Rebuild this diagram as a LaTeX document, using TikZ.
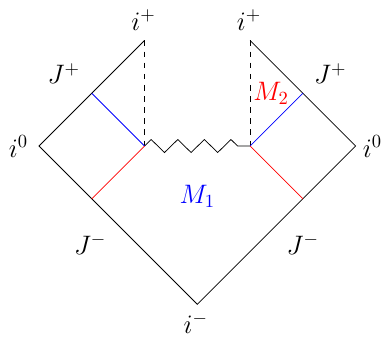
\documentclass[tikz,border=0pt]{standalone}
\begin{document}
\begin{tikzpicture}[
  lbl/.style={anchor=base, inner sep=0pt, font=\fontsize{14}{17}\selectfont},
  zz/.style={line join=miter}
]
\useasboundingbox (-3.739,-0.601) rectangle (3.500,5.767);
% vertices
\coordinate (Im) at (0,0);
\coordinate (L0) at (-3,3);
\coordinate (R0) at (3,3);
\coordinate (LP) at (-1,5);
\coordinate (RP) at (1,5);
\coordinate (SL) at (-1,3);
\coordinate (SR) at (1,3);
\coordinate (LU) at (-2,4);
\coordinate (LD) at (-2,2);
\coordinate (RU) at (2,4);
\coordinate (RD) at (2,2);
% outline
\draw (LP) -- (L0) -- (Im) -- (R0) -- (RP);
\draw[dashed] (LP) -- (SL);
\draw[dashed] (RP) -- (SR);
% singularity
\draw[zz] (SL) -- (-0.874,3.123) -- (-0.622,2.877) -- (-0.370,3.123) -- (-0.118,2.877)
  -- (0.134,3.123) -- (0.386,2.877) -- (0.638,3.123) -- (0.764,3) -- (SR);
% coloured lines
\draw[blue] (LU) -- (SL);
\draw[red] (SL) -- (LD);
\draw[blue] (SR) -- (RU);
\draw[red] (SR) -- (RD);
% labels
\node[lbl] (ipl) at (-1.02,5.198) {$i^+$};
\node[lbl] (ipr) at (0.98,5.198) {$i^+$};
\node[lbl,anchor=base east] (i0l) at (-3.2,2.786) {$i^0$};
\node[lbl,anchor=base west] (i0r) at (3.13,2.786) {$i^0$};
\node[lbl] (Jpl) at (-2.53,4.18) {$J^+$};
\node[lbl] (Jpr) at (2.52,4.18) {$J^+$};
\node[lbl] (Jml) at (-2.03,0.945) {$J^-$};
\node[lbl] (Jmr) at (2.0,0.945) {$J^-$};
\node[lbl] (im) at (-0.03,-0.545) {$i^-$};
\node[lbl,text=blue] (M1) at (0,1.914) {$M_1$};
\node[lbl,text=red] (M2) at (1.40,3.87) {$M_2$};
\end{tikzpicture}
\end{document}
